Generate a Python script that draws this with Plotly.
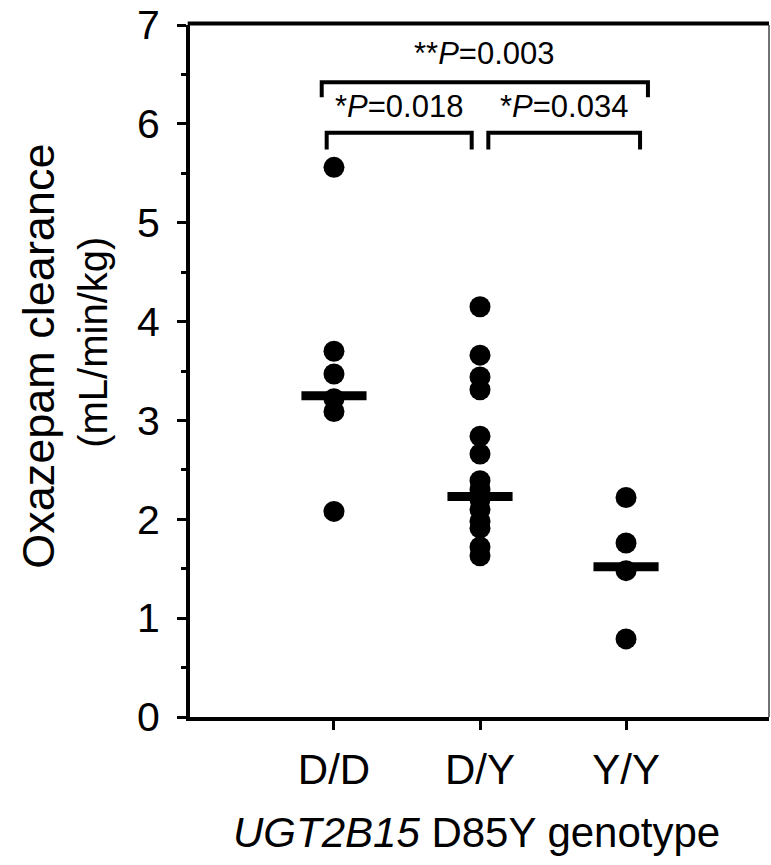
import plotly.graph_objects as go

# Oxazepam clearance by UGT2B15 D85Y genotype
genotypes = ["D/D", "D/Y", "Y/Y"]
clearance_dd = [5.56, 3.70, 3.47, 3.22, 3.09, 2.08]
clearance_dy = [4.15, 3.66, 3.44, 3.31, 2.84, 2.66, 2.39, 2.30, 2.20, 2.10, 1.98, 1.91, 1.72, 1.63]
clearance_yy = [2.22, 1.76, 1.48, 0.79]
group_centre = [3.25, 2.23, 1.52]

# pairwise comparisons: (group a, group b, label)
comparisons = [
    (0, 1, "*<i>P</i>=0.018"),
    (1, 2, "*<i>P</i>=0.034"),
    (0, 2, "**<i>P</i>=0.003"),
]

y_ticks = [0, 1, 2, 3, 4, 5, 6, 7]

FONT = "Liberation Sans, Arial, sans-serif"
groups = [clearance_dd, clearance_dy, clearance_yy]

fig = go.Figure()

# individual subjects
xs, ys = [], []
for i, vals in enumerate(groups):
    xs += [i] * len(vals)
    ys += vals
fig.add_trace(go.Scatter(
    x=xs, y=ys, mode="markers",
    marker=dict(symbol="circle", size=21, color="black", line=dict(width=0)),
    hoverinfo="skip", showlegend=False,
))

# horizontal bar at each group's centre value
half = 0.223
bx, by = [], []
for i, c in enumerate(group_centre):
    bx += [i - half, i + half, None]
    by += [c, c, None]
fig.add_trace(go.Scatter(
    x=bx, y=by, mode="lines",
    line=dict(color="black", width=9),
    hoverinfo="skip", showlegend=False,
))

# significance brackets
shapes = []
annotations = []
bracket_specs = {
    (0, 1): dict(x0=-0.05, x1=0.943, top=5.91, leg=0.17, ty=6.18),
    (1, 2): dict(x0=1.057, x1=2.096, top=5.91, leg=0.17, ty=6.18),
    (0, 2): dict(x0=-0.084, x1=2.15, top=6.42, leg=0.15, ty=6.71),
}
for a, b, label in comparisons:
    s = bracket_specs[(a, b)]
    path = (f"M {s['x0']},{s['top'] - s['leg']} L {s['x0']},{s['top']} "
            f"L {s['x1']},{s['top']} L {s['x1']},{s['top'] - s['leg']}")
    shapes.append(dict(type="path", path=path, xref="x", yref="y",
                       line=dict(color="black", width=4)))
    annotations.append(dict(
        x=(s["x0"] + s["x1"]) / 2, y=s["ty"], xref="x", yref="y",
        text=label, showarrow=False, xanchor="center", yanchor="middle",
        font=dict(family=FONT, size=31, color="black"),
    ))

# frame: top edge and thin right-hand edge
shapes.append(dict(type="line", xref="paper", yref="paper", x0=-0.004, x1=1, y0=1.002, y1=1.002,
                   line=dict(color="black", width=4)))
shapes.append(dict(type="line", xref="paper", yref="paper", x0=1, x1=1, y0=0, y1=1,
                   line=dict(color="#444444", width=1.5)))

# axis titles
annotations += [
    dict(x=-0.262, y=0.521, xref="paper", yref="paper", text="Oxazepam clearance",
         textangle=-90, showarrow=False, xanchor="center", yanchor="middle",
         font=dict(family=FONT, size=45, color="black")),
    dict(x=-0.169, y=0.541, xref="paper", yref="paper", text="(mL/min/kg)",
         textangle=-90, showarrow=False, xanchor="center", yanchor="middle",
         font=dict(family=FONT, size=40, color="black")),
    dict(x=0.495, y=-0.167, xref="paper", yref="paper",
         text="<i>UGT2B15</i> D85Y genotype",
         showarrow=False, xanchor="center", yanchor="middle",
         font=dict(family=FONT, size=42, color="black")),
]

fig.update_layout(
    width=771, height=865,
    margin=dict(l=190, r=2, t=22, b=148),
    paper_bgcolor="white", plot_bgcolor="white",
    shapes=shapes, annotations=annotations,
    font=dict(family=FONT, color="black"),
    xaxis=dict(
        range=[-0.986, 2.979],
        tickmode="array", tickvals=list(range(len(genotypes))), ticktext=genotypes,
        ticks="outside", ticklen=9, tickwidth=3, tickcolor="black",
        showline=True, linewidth=4, linecolor="black",
        showgrid=False, zeroline=False, ticklabelstandoff=4,
        tickfont=dict(family=FONT, size=42, color="black"),
    ),
    yaxis=dict(
        range=[0, 7],
        tickmode="array", tickvals=y_ticks,
        ticks="outside", ticklen=9, tickwidth=3, tickcolor="black",
        minor=dict(dtick=0.5, ticks="outside", ticklen=5, tickwidth=3, tickcolor="black"),
        showline=True, linewidth=4, linecolor="black",
        showgrid=False, zeroline=False, ticklabelstandoff=9,
        ticklabeloverflow="allow",
        tickfont=dict(family=FONT, size=41, color="black"),
    ),
)

fig.write_html("out.html", config={"displayModeBar": False, "staticPlot": True})
